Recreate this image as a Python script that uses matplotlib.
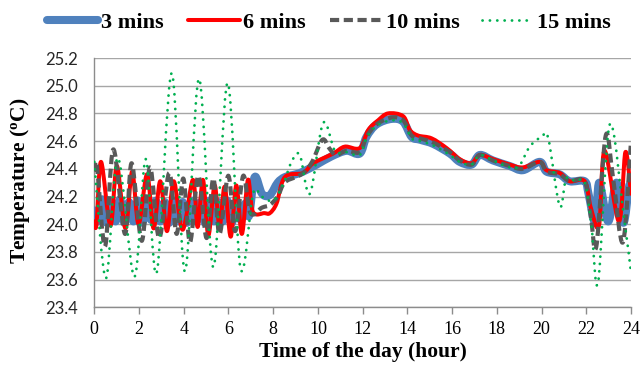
import matplotlib
matplotlib.use("Agg")
import matplotlib.pyplot as plt
import numpy as np
from matplotlib.path import Path
from matplotlib.patches import PathPatch
from matplotlib.lines import Line2D

# ---- data: time of day (hour) and indoor temperature (degC) ----
hours_3min = [0.00, 0.15, 0.35, 0.55, 0.75, 0.95, 1.15, 1.35, 1.55, 1.75,
              1.95, 2.15, 2.35, 2.55, 2.75, 2.95, 3.15, 3.35, 3.55, 3.75,
              3.95, 4.15, 4.35, 4.55, 4.75, 4.95, 5.15, 5.35, 5.55, 5.75,
              5.95, 6.15, 6.35, 6.55, 6.75, 6.92, 7.17, 7.50, 7.85, 8.20,
              8.52, 9.00, 9.34, 9.94, 10.61, 11.28, 11.87, 12.17, 12.62, 13.29,
              13.81, 14.19, 14.56, 15.15, 15.90, 16.34, 16.87, 17.24, 17.83, 18.58,
              19.17, 19.92, 20.22, 20.81, 21.26, 21.93, 22.10, 22.40, 22.58, 22.98,
              23.35, 23.66, 23.92, 24.00]
temp_3min = [24.10, 24.02, 24.18, 24.01, 24.17, 24.02, 24.18, 24.01, 24.16, 24.02,
             24.17, 24.01, 24.16, 24.03, 24.17, 24.02, 24.16, 24.01, 24.17, 24.02,
             24.16, 24.01, 24.17, 24.02, 24.16, 24.01, 24.17, 24.02, 24.16, 24.02,
             24.17, 24.01, 24.16, 24.03, 24.15, 24.06, 24.34, 24.22, 24.21, 24.30,
             24.34, 24.36, 24.38, 24.43, 24.49, 24.53, 24.51, 24.63, 24.72, 24.76,
             24.74, 24.63, 24.61, 24.58, 24.51, 24.45, 24.43, 24.50, 24.46, 24.42,
             24.39, 24.45, 24.38, 24.36, 24.31, 24.31, 24.22, 24.01, 24.30, 24.02,
             24.30, 24.01, 24.28, 24.22]

hours_6min = [0.00, 0.10, 0.30, 0.72, 1.01, 1.39, 1.69, 1.98, 2.36, 2.65,
              2.95, 3.25, 3.55, 3.95, 4.41, 4.62, 4.86, 5.10, 5.38, 5.60,
              5.83, 6.10, 6.35, 6.60, 6.87, 7.09, 7.61, 7.85, 8.15, 8.52,
              9.34, 9.79, 10.68, 11.20, 11.87, 12.25, 12.69, 13.14, 13.81, 14.11,
              14.48, 15.08, 15.75, 16.34, 16.87, 17.24, 17.83, 18.58, 19.17, 19.92,
              20.22, 20.81, 21.26, 21.93, 22.20, 22.57, 22.82, 23.46, 23.75, 24.00]
temp_6min = [24.02, 24.00, 24.45, 23.99, 24.42, 23.97, 24.38, 24.00, 24.36, 23.97,
             24.31, 23.95, 24.31, 23.96, 24.32, 23.98, 24.32, 23.92, 24.28, 23.98,
             24.27, 23.91, 24.28, 23.93, 24.32, 24.09, 24.08, 24.08, 24.15, 24.34,
             24.37, 24.44, 24.51, 24.56, 24.55, 24.68, 24.75, 24.80, 24.78, 24.68,
             24.64, 24.62, 24.55, 24.47, 24.44, 24.50, 24.47, 24.43, 24.41, 24.45,
             24.39, 24.37, 24.31, 24.31, 24.12, 23.99, 24.53, 24.02, 24.52, 24.22]

hours_10min = [0.00, 0.12, 0.48, 0.85, 1.37, 1.67, 2.12, 2.49, 2.90, 3.35,
               3.68, 3.98, 4.28, 4.65, 5.02, 5.32, 5.60, 5.99, 6.30, 6.66,
               6.98, 7.50, 7.85, 8.20, 8.50, 9.00, 9.34, 9.74, 10.20, 10.50,
               10.80, 11.28, 11.87, 12.17, 12.62, 13.29, 13.81, 14.19, 14.56, 15.15,
               15.90, 16.34, 16.87, 17.24, 17.83, 18.58, 19.17, 19.92, 20.22, 20.81,
               21.26, 21.93, 22.20, 22.45, 22.87, 23.20, 23.64, 24.00]
temp_10min = [24.38, 24.42, 23.84, 24.54, 23.93, 24.44, 23.88, 24.41, 23.90, 24.37,
              23.93, 24.33, 23.87, 24.35, 23.90, 24.33, 23.93, 24.35, 23.95, 24.35,
              24.08, 24.12, 24.14, 24.20, 24.30, 24.34, 24.37, 24.45, 24.61, 24.55,
              24.50, 24.53, 24.52, 24.63, 24.72, 24.77, 24.75, 24.64, 24.62, 24.59,
              24.52, 24.46, 24.43, 24.50, 24.46, 24.42, 24.40, 24.45, 24.38, 24.36,
              24.31, 24.31, 24.06, 23.84, 24.64, 24.33, 23.87, 24.60]

hours_15min = [0.00, 0.52, 1.05, 1.79, 2.30, 2.79, 3.46, 4.05, 4.68, 5.32,
               5.96, 6.54, 7.10, 7.48, 8.00, 8.45, 8.82, 9.19, 9.64, 10.23,
               10.76, 11.28, 11.87, 12.17, 12.62, 13.29, 13.81, 14.19, 14.56, 15.15,
               15.90, 16.34, 16.87, 17.24, 17.83, 18.58, 19.00, 19.47, 20.00, 20.30,
               20.81, 21.10, 21.50, 21.93, 22.23, 22.53, 23.05, 23.70, 24.00]
temp_15min = [24.45, 23.61, 24.48, 23.62, 24.47, 23.65, 25.09, 23.66, 25.05, 23.69,
              25.02, 23.68, 24.22, 24.20, 24.17, 24.29, 24.45, 24.50, 24.22, 24.73,
              24.53, 24.52, 24.50, 24.62, 24.71, 24.75, 24.73, 24.62, 24.60, 24.57,
              24.50, 24.45, 24.43, 24.50, 24.46, 24.41, 24.42, 24.56, 24.63, 24.62,
              24.13, 24.33, 24.31, 24.30, 23.99, 23.58, 24.72, 24.03, 23.65]

series_labels = ["3 mins", "6 mins", "10 mins", "15 mins"]
x_ticks = list(range(0, 25, 2))
y_ticks = [23.4, 23.6, 23.8, 24.0, 24.2, 24.4, 24.6, 24.8, 25.0, 25.2]

plt.rcParams["mathtext.fontset"] = "custom"
plt.rcParams["mathtext.rm"] = "Liberation Serif"
plt.rcParams["mathtext.bf"] = "Liberation Serif:bold"

W, H = 642, 370


def fx(px):
    return px / W


def fy(py):
    return 1 - py / H


def smoothed_path(xs, ys):
    """Smoothed (Catmull-Rom style) Bezier path through the data points."""
    pts = np.column_stack([xs, ys]).astype(float)
    n = len(pts)
    verts = [pts[0]]
    codes = [Path.MOVETO]
    for i in range(n - 1):
        p0 = pts[i - 1] if i > 0 else pts[i]
        p1 = pts[i]
        p2 = pts[i + 1]
        p3 = pts[i + 2] if i + 2 < n else pts[i + 1]
        verts += [p1 + (p2 - p0) / 6.0, p2 - (p3 - p1) / 6.0, p2]
        codes += [Path.CURVE4] * 3
    return Path(verts, codes)


styles = [
    dict(color="#4F81BD", lw=5.8, ls="-", cap="round"),
    dict(color="#FF0000", lw=2.9, ls="-", cap="round"),
    dict(color="#595959", lw=3.0, ls=(0, (2.2, 1.1)), cap="butt"),
    dict(color="#00B050", lw=2.0, ls=(0, (0.05, 2.6)), cap="round"),
]
series = [(hours_3min, temp_3min), (hours_6min, temp_6min),
          (hours_10min, temp_10min), (hours_15min, temp_15min)]

fig = plt.figure(figsize=(W / 100, H / 100), dpi=100)
ax = fig.add_axes([fx(94.3), fy(307.3), fx(631) - fx(94.3), (307.3 - 58) / H])

for (xs, ys), st in zip(series, styles):
    patch = PathPatch(smoothed_path(xs, ys), fill=False, edgecolor=st["color"],
                      linewidth=st["lw"], linestyle=st["ls"], capstyle=st["cap"],
                      joinstyle="round", transform=ax.transData, zorder=3)
    ax.add_patch(patch)

ax.set_xlim(0, 24)
ax.set_ylim(23.4, 25.2)
ax.set_xticks(x_ticks)
ax.set_yticks(y_ticks)
ax.set_yticklabels([f"{v:.1f}" for v in y_ticks], fontfamily="Lato", fontsize=12, color="#262626")
ax.set_xticklabels([str(v) for v in x_ticks], fontfamily="Liberation Serif", fontsize=13)
ax.tick_params(axis="y", length=0, pad=12)
ax.tick_params(axis="x", length=5, width=1, color="#8c8c8c", pad=5, direction="out")
ax.grid(axis="y", color="#a6a6a6", linewidth=1.0)
ax.set_axisbelow(True)
for side in ("top", "right"):
    ax.spines[side].set_visible(False)
for side in ("left", "bottom"):
    ax.spines[side].set_color("#8c8c8c")
    ax.spines[side].set_linewidth(1.0)

fig.text(fx(363), fy(352), "Time of the day (hour)", ha="center", va="center",
         fontfamily="Liberation Serif", fontweight="bold", fontsize=15.5)
fig.text(fx(20), fy(181), r"Temperature ($\mathbf{^{o}}$C)", ha="center", va="center",
         rotation=90, fontfamily="Liberation Serif", fontweight="bold", fontsize=15.5)

# legend row across the top
legend_y = 19.5
legend_slots = [(47, 98, 101), (188, 240, 243), (330, 383, 386), (482, 530, 537)]
for (x0, x1, xt), st, label in zip(legend_slots, styles, series_labels):
    fig.add_artist(Line2D([fx(x0), fx(x1)], [fy(legend_y), fy(legend_y)],
                          transform=fig.transFigure, color=st["color"], lw=st["lw"],
                          ls=st["ls"], solid_capstyle=st["cap"], dash_capstyle=st["cap"]))
    fig.text(fx(xt), fy(legend_y + 0.5), label, ha="left", va="center_baseline",
             fontfamily="Liberation Serif", fontweight="bold", fontsize=16)

fig.savefig("out.png", dpi=100)
